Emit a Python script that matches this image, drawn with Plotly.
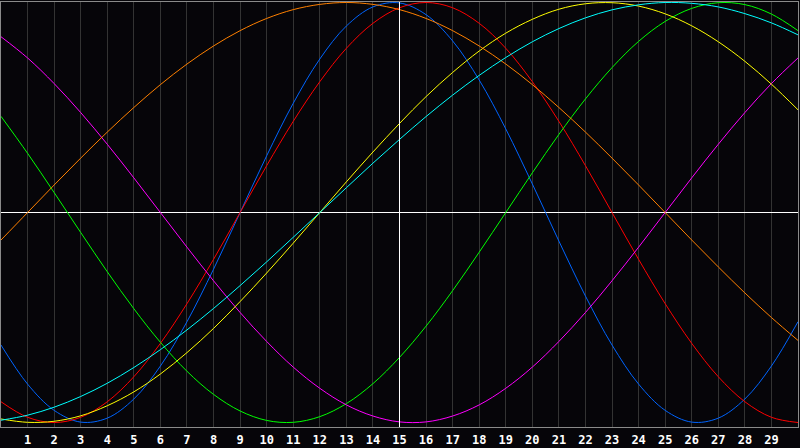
import plotly.graph_objects as go

days = list(range(31))
tick_days = list(range(1, 30))
today = 15

physical = [-0.631, -0.817, -0.942, -0.998, -0.979, -0.888, -0.731, -0.520, -0.270, 0.0,
            0.270, 0.520, 0.731, 0.888, 0.979, 0.998, 0.942, 0.817, 0.631, 0.398,
            0.136, -0.136, -0.398, -0.631, -0.817, -0.942, -0.998, -0.979, -0.888, -0.731,
            -0.520]
emotional = [-0.901, -0.975, -1.0, -0.975, -0.901, -0.782, -0.623, -0.434, -0.223, 0.0,
             0.223, 0.434, 0.623, 0.782, 0.901, 0.975, 1.0, 0.975, 0.901, 0.782,
             0.623, 0.434, 0.223, 0.0, -0.223, -0.434, -0.623, -0.782, -0.901, -0.975,
             -1.0]
intellectual = [0.458, 0.282, 0.095, -0.095, -0.282, -0.458, -0.618, -0.756, -0.866, -0.945,
                -0.990, -0.999, -0.972, -0.910, -0.815, -0.690, -0.541, -0.372, -0.189, 0.0,
                0.189, 0.372, 0.541, 0.690, 0.815, 0.910, 0.972, 0.999, 0.990, 0.945,
                0.866]
intuitive = [0.837, 0.736, 0.614, 0.476, 0.325, 0.165, 0.0, -0.165, -0.325, -0.476,
             -0.614, -0.736, -0.837, -0.916, -0.969, -0.997, -0.997, -0.969, -0.916, -0.837,
             -0.736, -0.614, -0.476, -0.325, -0.165, 0.0, 0.165, 0.325, 0.476, 0.614,
             0.736]
aesthetic = [-0.983, -0.999, -0.994, -0.968, -0.920, -0.854, -0.769, -0.667, -0.552, -0.424,
             -0.288, -0.146, 0.0, 0.146, 0.288, 0.424, 0.552, 0.667, 0.769, 0.854,
             0.920, 0.968, 0.994, 0.999, 0.983, 0.946, 0.889, 0.813, 0.720, 0.611,
             0.489]
awareness = [-0.131, 0.0, 0.131, 0.259, 0.383, 0.5, 0.609, 0.707, 0.793, 0.866,
             0.924, 0.966, 0.991, 1.0, 0.991, 0.966, 0.924, 0.866, 0.793, 0.707,
             0.609, 0.5, 0.383, 0.259, 0.131, 0.0, -0.131, -0.259, -0.383, -0.5,
             -0.609]
spiritual = [-0.989, -0.965, -0.927, -0.876, -0.813, -0.738, -0.653, -0.559, -0.457, -0.348,
             -0.235, -0.118, 0.0, 0.118, 0.235, 0.348, 0.457, 0.559, 0.653, 0.738,
             0.813, 0.876, 0.927, 0.965, 0.989, 1.0, 0.996, 0.979, 0.947, 0.903,
             0.846]

series = [
    (physical, "#0064ff"),
    (emotional, "#ff0000"),
    (intellectual, "#00ff00"),
    (intuitive, "#ff00ff"),
    (aesthetic, "#ffff00"),
    (awareness, "#ff8000"),
    (spiritual, "#00ffff"),
]

fig = go.Figure()
for values, color in series:
    fig.add_trace(go.Scatter(x=days, y=values, mode="lines",
                             line=dict(color=color, width=1, shape="spline"),
                             hoverinfo="skip"))

# today marker
fig.add_shape(type="line", xref="x", yref="paper", x0=today, x1=today, y0=0, y1=1,
              line=dict(color="white", width=1))

fig.update_layout(width=800, height=448,
                  showlegend=False,
                  paper_bgcolor="#060509",
                  plot_bgcolor="#060509",
                  margin=dict(l=1, r=1, t=1, b=20))
fig.update_xaxes(range=[0, 30],
                 tickvals=tick_days,
                 ticktext=[str(d) for d in tick_days],
                 showgrid=True, gridcolor="#333333", gridwidth=1,
                 zeroline=False,
                 showline=True, linecolor="#8a8a8a", linewidth=1, mirror=True,
                 ticks="", ticklen=0, ticklabelstandoff=2,
                 tickfont=dict(family="DejaVu Sans Mono", size=12, color="white", weight="bold"))
fig.update_yaxes(range=[-1.0213, 1.0024],
                 showgrid=False, showticklabels=False,
                 zeroline=True, zerolinecolor="white", zerolinewidth=1,
                 showline=True, linecolor="#8a8a8a", linewidth=1, mirror=True)

fig.write_html("out.html", config={"displayModeBar": False},
               post_script="document.body.style.margin='0';document.body.style.background='#060509';")
